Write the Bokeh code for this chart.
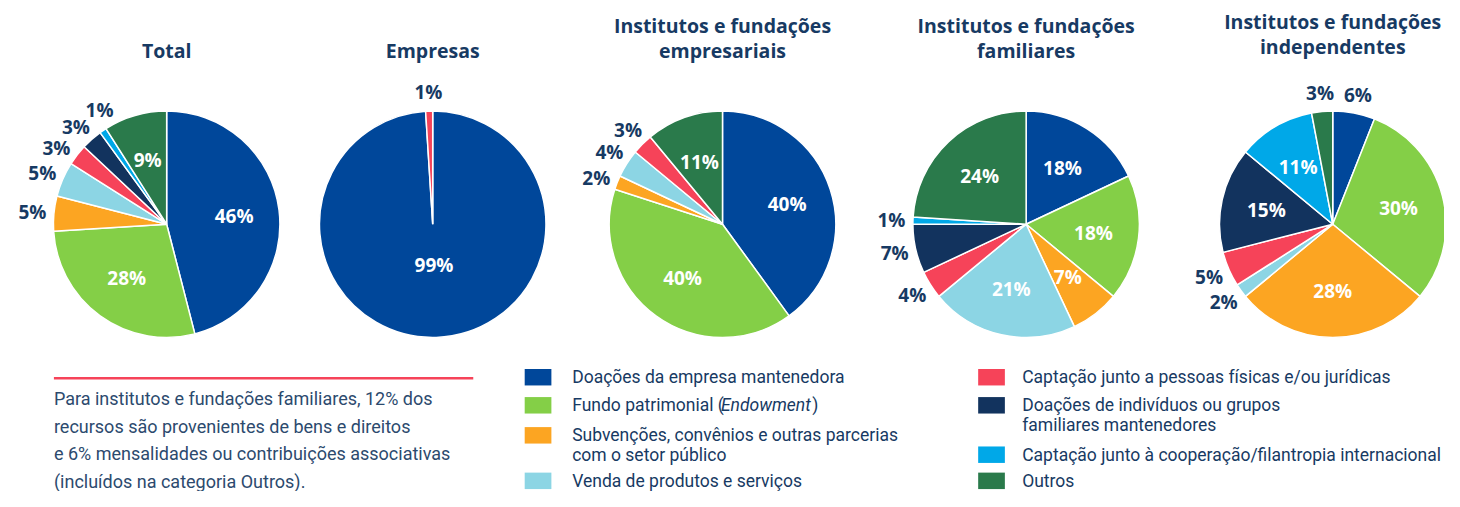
import math
from bokeh.plotting import figure
from bokeh.models import Range1d
from bokeh.core.properties import value
from bokeh.embed import file_html
from bokeh.resources import INLINE

# ---------------- data ----------------
categories = [
    "Doações da empresa mantenedora",
    "Fundo patrimonial (Endowment)",
    "Subvenções, convênios e outras parcerias com o setor público",
    "Venda de produtos e serviços",
    "Captação junto a pessoas físicas e/ou jurídicas",
    "Doações de indivíduos ou grupos familiares mantenedores",
    "Captação junto à cooperação/filantropia internacional",
    "Outros",
]
colors = ["#00479a", "#84cf47", "#fca522", "#8cd5e4", "#f64359", "#12335e", "#00a8e8", "#2a7a4b"]

chart_titles = [
    ["Total"],
    ["Empresas"],
    ["Institutos e fundações", "empresariais"],
    ["Institutos e fundações", "familiares"],
    ["Institutos e fundações", "independentes"],
]
total = [46, 28, 5, 5, 3, 3, 1, 9]
empresas = [99, 0, 0, 0, 1, 0, 0, 0]
inst_empresariais = [40, 40, 2, 4, 3, 0, 0, 11]
inst_familiares = [18, 18, 7, 21, 4, 7, 1, 24]
inst_independentes = [6, 30, 28, 2, 5, 15, 11, 3]
series = [total, empresas, inst_empresariais, inst_familiares, inst_independentes]
# indices of slices whose label sits outside the pie
outside_labels = [
    [2, 3, 4, 5, 6],
    [4],
    [2, 3, 4],
    [4, 5, 6],
    [0, 3, 4, 7],
]

legend_left = [
    (0, ["Doações da empresa mantenedora"]),
    (1, None),  # Fundo patrimonial (Endowment) -- italic part drawn separately
    (2, ["Subvenções, convênios e outras parcerias", "com o setor público"]),
    (3, ["Venda de produtos e serviços"]),
]
legend_right = [
    (4, ["Captação junto a pessoas físicas e/ou jurídicas"]),
    (5, ["Doações de indivíduos ou grupos", "familiares mantenedores"]),
    (6, ["Captação junto à cooperação/filantropia internacional"]),
    (7, ["Outros"]),
]
note_lines = [
    "Para institutos e fundações familiares, 12% dos",
    "recursos são provenientes de bens e direitos",
    "e 6% mensalidades ou contribuições associativas",
    "(incluídos na categoria Outros).",
]

# ---------------- layout ----------------
W, H = 1444, 491
REF_W, REF_H = 1460, 507
TXT = "#173a63"
NOTE = "#2c4a6e"
TITLE_FONT = "Open Sans"
LABEL_FONT = "Open Sans"
LEG_FONT = "Roboto"
NOTE_FONT = "Roboto"
PX = REF_W / W  # data units per screen pixel (x)


def Y(yref):
    return REF_H - yref


p = figure(width=W, height=H, x_range=Range1d(0, REF_W), y_range=Range1d(0, REF_H),
           output_backend="svg", toolbar_location=None, min_border=0,
           x_axis_type=None, y_axis_type=None)
p.grid.visible = False
p.outline_line_color = None
p.background_fill_color = "white"
p.border_fill_color = "white"

centers_x = [168, 437, 730, 1037, 1347]
center_y = Y(231)
R = 114.5
title_tops = [52, 52, 26, 26, 22]


def spread(angles, min_sep):
    a = list(angles)
    for _ in range(200):
        moved = False
        order = sorted(range(len(a)), key=lambda i: a[i])
        for k in range(len(order) - 1):
            i, j = order[k], order[k + 1]
            gap = a[j] - a[i]
            if gap < min_sep:
                d = (min_sep - gap) / 2
                a[i] -= d
                a[j] += d
                moved = True
        if not moved:
            break
    return a


for ci, vals in enumerate(series):
    cx = centers_x[ci]
    tot = float(sum(vals))
    starts, ends, cols, mids = [], [], [], []
    cum = 0.0
    for k, v in enumerate(vals):
        f0 = cum / tot
        cum += v
        f1 = cum / tot
        mids.append((f0 + f1) / 2)
        if v > 0:
            starts.append(math.pi / 2 - f1 * 2 * math.pi)
            ends.append(math.pi / 2 - f0 * 2 * math.pi)
            cols.append(colors[k])
    p.wedge(x=cx, y=center_y, radius=R, start_angle=starts, end_angle=ends,
            fill_color=cols, line_color="white", line_width=1.5)

    # inside labels
    ix, iy, it = [], [], []
    for k, v in enumerate(vals):
        if v <= 0 or k in outside_labels[ci]:
            continue
        frac = v / tot
        rr = 0.37 * R if frac > 0.5 else 0.6 * R
        th = mids[k] * 2 * math.pi
        ix.append(cx + rr * math.sin(th))
        iy.append(center_y + rr * math.cos(th))
        it.append(f"{v}%")
    p.text(x=ix, y=iy, text=it, text_color="white", text_font=value(LABEL_FONT),
           text_font_style="bold", text_font_size="19px", text_align="center",
           text_baseline="middle")

    # outside labels
    ks = [k for k in outside_labels[ci] if vals[k] > 0]
    degs = []
    for k in ks:
        d = mids[k] * 360
        if d > 180:
            d -= 360
        degs.append(d)
    degs = spread(degs, 12.5)
    ox, oy, ot = [], [], []
    for k, d in zip(ks, degs):
        th = math.radians(d)
        rr = 1.19 * R
        ox.append(cx + rr * math.sin(th))
        oy.append(center_y + rr * math.cos(th))
        ot.append(f"{vals[k]}%")
    p.text(x=ox, y=oy, text=ot, text_color=TXT, text_font=value(LABEL_FONT),
           text_font_style="bold", text_font_size="19px", text_align="center",
           text_baseline="middle")

    # titles
    lines = chart_titles[ci]
    top = title_tops[ci]
    ty = [Y(top)] if len(lines) == 1 else [Y(top), Y(top + 26)]
    p.text(x=[cx] * len(lines), y=ty, text=lines, text_color=TXT,
           text_font=value(TITLE_FONT), text_font_style="bold", text_font_size="19.5px",
           text_align="center", text_baseline="middle")

# ---------------- legend ----------------
rows_left = [389, 418, 449, 496]
rows_right = [389, 418, 469, 496]
LH = 20
LEG_PX = 17.5
LEG_SIZE = f"{LEG_PX}px"


def legend_column(items, rows, sq_x, tx):
    for (k, lines), ry in zip(items, rows):
        p.rect(x=sq_x, y=Y(ry), width=27, height=17, fill_color=colors[k], line_color=None)
        if lines is None:
            continue
        p.text(x=[tx] * len(lines), y=[Y(ry + i * LH) for i in range(len(lines))], text=lines,
               text_color=TXT, text_font=value(LEG_FONT), text_font_size=LEG_SIZE,
               text_align="left", text_baseline="middle")


legend_column(legend_left, rows_left, 543.5, 578)
legend_column(legend_right, rows_right, 1002, 1033)

# Fundo patrimonial (Endowment) with italic part
parts = ["Fundo patrimonial (", "Endowment", ")"]
part_offsets_em = [0, 8.5, 13.72]
styles = ["normal", "italic", "normal"]
for t, off, st in zip(parts, part_offsets_em, styles):
    p.text(x=[578 + off * LEG_PX * PX], y=[Y(418)], text=[t], text_color=TXT,
           text_font=value(LEG_FONT), text_font_size=LEG_SIZE, text_font_style=st,
           text_align="left", text_baseline="middle")

# ---------------- note ----------------
p.segment(x0=54, y0=Y(390), x1=478, y1=Y(390), line_color="#f64359", line_width=2.5)
p.text(x=[54] * len(note_lines), y=[Y(411 + 28.5 * i) for i in range(len(note_lines))],
       text=note_lines, text_color=NOTE, text_font=value(NOTE_FONT), text_font_size="18px",
       text_align="left", text_baseline="middle")

open("out.html", "w").write(file_html(p, INLINE))
